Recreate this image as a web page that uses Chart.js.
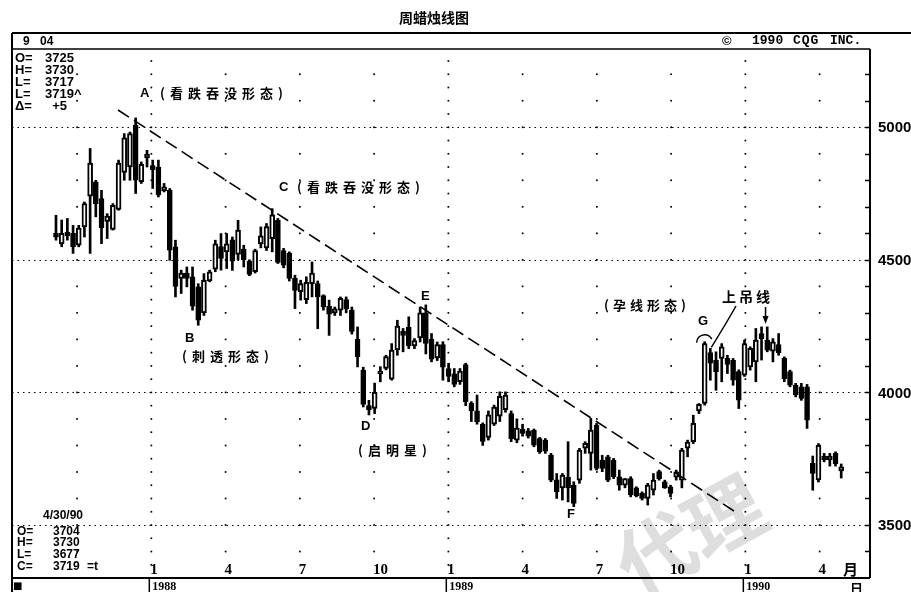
<!DOCTYPE html>
<html><head><meta charset="utf-8">
<script src="https://cdn.jsdelivr.net/npm/chart.js@4.4.1/dist/chart.umd.min.js"></script>
<style>html,body{margin:0;padding:0;background:#fff;overflow:hidden}canvas{display:block}</style>
</head><body>
<canvas id="c" width="911" height="592"></canvas>
<script>
// ---- weekly candles, Sept 1987 .. 4/30/90 (index = week number) ----
const opens = [4600,4560,4605,4600,4555,4624,4740,4794,4731,4645,4615,4690,4830,4850,5008,4795,4885,4855,4850,4760,
4762,4549,4430,4450,4436,4398,4300,4420,4465,4550,4530,4575,4520,4540,4495,4455,4560,4545,4580,4650,
4535,4525,4430,4380,4350,4410,4410,4365,4325,4300,4310,4350,4310,4200,4084,3950,3940,4070,4090,4050,
4160,4230,4245,4175,4205,4300,4200,4130,4180,4090,4070,4040,4105,3960,3930,3880,3830,3880,3910,3935,
3920,3820,3862,3855,3858,3826,3820,3763,3670,3640,3680,3650,3669,3790,3770,3877,3745,3757,3745,3682,
3650,3675,3640,3619,3600,3631,3701,3663,3644,3680,3669,3790,3814,3930,3958,4150,4121,4128,4128,4121,
4078,4065,4096,4115,4222,4197,4155,4180,4128,4078,4027,4021,4021,3732,3670,3760,3745,3770,3704];
const highs = [4668,4650,4656,4630,4630,4718,4920,4800,4762,4674,4712,4876,4976,4982,5035,4869,4913,4876,4876,4788,
4769,4574,4461,4473,4473,4410,4448,4461,4574,4599,4599,4586,4649,4555,4500,4540,4624,4637,4693,4656,
4543,4530,4442,4423,4436,4492,4420,4368,4348,4322,4360,4360,4322,4247,4095,3970,4035,4097,4140,4184,
4272,4241,4285,4203,4322,4330,4222,4190,4191,4110,4090,4090,4110,3965,3990,3885,3930,3952,4002,4002,
3930,3900,3880,3864,3862,3830,3826,3770,3694,3694,3814,3663,3789,3814,3902,3883,3763,3763,3751,3707,
3675,3682,3644,3625,3657,3694,3707,3669,3650,3707,3789,3820,3914,3958,4191,4166,4153,4184,4140,4128,
4085,4197,4172,4241,4247,4247,4203,4222,4134,4084,4034,4034,4030,3760,3807,3770,3770,3776,3730];
const lows = [4574,4549,4574,4524,4549,4586,4524,4662,4561,4580,4612,4687,4800,4800,4750,4788,4850,4769,4737,4756,
4498,4360,4373,4398,4310,4253,4290,4417,4455,4461,4467,4460,4500,4473,4440,4450,4545,4535,4530,4486,
4470,4420,4316,4348,4335,4360,4240,4310,4215,4290,4290,4300,4220,4096,3945,3915,3920,4040,4085,4046,
4140,4153,4165,4165,4190,4145,4115,4120,4046,4040,4021,4030,3950,3890,3880,3800,3820,3875,3890,3925,
3814,3810,3835,3828,3795,3770,3770,3663,3600,3594,3587,3569,3657,3770,3707,3707,3701,3663,3675,3631,
3640,3606,3606,3594,3575,3613,3669,3638,3606,3669,3640,3757,3807,3920,3952,4046,4008,4040,4071,4027,
3939,4060,4084,4040,4122,4153,4115,4140,4040,4021,3983,3970,3864,3631,3662,3738,3722,3722,3677];
const closes = [4585,4600,4590,4550,4620,4712,4865,4712,4620,4665,4705,4865,4960,4976,4800,4860,4898,4840,4745,4775,
4536,4400,4450,4430,4325,4272,4423,4455,4560,4505,4560,4495,4612,4500,4445,4535,4590,4625,4670,4490,
4480,4430,4385,4410,4415,4450,4360,4322,4295,4315,4355,4315,4230,4135,3955,3935,4000,4080,4135,4160,
4250,4215,4175,4195,4300,4185,4125,4180,4095,4060,4030,4080,3965,3930,3890,3815,3915,3945,3985,3990,
3825,3865,3845,3835,3801,3776,3778,3669,3625,3688,3640,3581,3782,3808,3858,3713,3713,3669,3682,3650,
3675,3613,3610,3600,3650,3669,3675,3640,3619,3700,3782,3813,3883,3955,4184,4110,4078,4172,4105,4046,
3971,4184,4166,4197,4203,4159,4191,4150,4052,4027,3990,3977,3895,3694,3800,3745,3760,3730,3719];

// trend line, in week / price units
const trendWeeks = [10.9, 119.7];
const trendPrices = [5065, 3545];

// axis / tick texts
const priceTicks = [3500, 4000, 4500, 5000];
const quarterWeeks = [3.7, 16.75, 29.8, 42.85, 55.9, 68.95, 82.0, 95.05, 108.1, 121.15, 134.2];
const quarterLabels = ['', '1', '4', '7', '10', '1', '4', '7', '10', '1', '4'];
const yearWeeks = [16.75, 68.95, 121.15];
const yearLabels = ['1988', '1989', '1990'];

// info boxes
const topBoxLabels = ['O=', 'H=', 'L=', 'L=', 'Δ='];
const topBoxValues = ['3725', '3730', '3717', '3719^', '  +5'];
const lastDate = '4/30/90';

const N = opens.length;
const bodies = opens.map((o, i) => ({x: i, y: [o, closes[i]]}));
const wicks = lows.map((l, i) => ({x: i, y: [l, highs[i]]}));

const CJK = '"Noto Sans CJK SC"';
function line(ctx, x1, y1, x2, y2, w) {
  ctx.lineWidth = w; ctx.beginPath(); ctx.moveTo(x1, y1); ctx.lineTo(x2, y2); ctx.stroke();
}
function txt(ctx, t, x, y, font, align, spacing) {
  ctx.font = font; ctx.textAlign = align || 'left'; ctx.textBaseline = 'middle';
  ctx.letterSpacing = spacing || '0px';
  ctx.fillText(t, x, y);
  ctx.letterSpacing = '0px';
}

const framePlugin = {
  id: 'frame',
  beforeDraw(chart) {
    const ctx = chart.ctx;
    ctx.save(); ctx.fillStyle = '#fff'; ctx.fillRect(0, 0, chart.width, chart.height); ctx.restore();
  },
  beforeDatasetsDraw(chart) {
    const {ctx, chartArea: a, scales: {x, y}} = chart;
    // watermark
    ctx.save();
    ctx.translate(690, 535); ctx.rotate(-0.5);
    ctx.fillStyle = '#dedede';
    ctx.font = 'bold 78px ' + CJK; ctx.textAlign = 'center'; ctx.textBaseline = 'middle';
    ctx.fillText('代理', 0, 0);
    ctx.restore();
    // dotted price lines
    ctx.save();
    ctx.strokeStyle = '#000'; ctx.setLineDash([1.5, 4]);
    priceTicks.forEach(p => {
      const py = Math.round(y.getPixelForValue(p)) + 0.5;
      line(ctx, a.left, py, a.right, py, 1);
    });
    ctx.restore();
    // dot grid on the quarter verticals
    ctx.save(); ctx.fillStyle = '#000';
    quarterWeeks.forEach(w => {
      const px = x.getPixelForValue(w);
      const step = yearWeeks.includes(w) ? 50 : 100;
      for (let p = 3350; p <= 5250; p += 50) {
        if (p % step) continue;
        const py = y.getPixelForValue(p);
        ctx.fillRect(px - 0.8, py - 0.8, 1.7, 1.7);
      }
    });
    ctx.restore();
  },
  afterDatasetsDraw(chart) {
    const {ctx, chartArea: a, scales: {x, y}} = chart;
    ctx.save();
    ctx.strokeStyle = '#000'; ctx.fillStyle = '#000';
    // frame
    line(ctx, a.left, 33, chart.width, 33, 2);
    line(ctx, a.left, 49, a.right, 49, 1.5);
    line(ctx, a.left, 33, a.left, chart.height, 2);
    line(ctx, a.right, 49, a.right, a.bottom, 2);
    line(ctx, a.left, a.bottom, a.right, a.bottom, 2);
    yearWeeks.forEach(w => { const px = x.getPixelForValue(w) - 2; line(ctx, px, a.bottom, px, chart.height, 1.5); });
    // right axis minor ticks and price labels
    for (let p = 3400; p <= 5200; p += 100) {
      const py = Math.round(y.getPixelForValue(p)) + 0.5;
      line(ctx, a.right - 5, py, a.right, py, 1.5);
    }
    priceTicks.forEach(p => {
      txt(ctx, String(p), a.right + 8, y.getPixelForValue(p) + 1, 'bold 15px "Liberation Sans"');
    });
    // title + header
    txt(ctx, '周蜡烛线图', 434, 18, 'bold 14px ' + CJK, 'center');
    txt(ctx, '9', 23, 42, 'bold 12px "Liberation Sans"');
    txt(ctx, '04', 40, 42, 'bold 12px "Liberation Sans"');
    const mono = 'bold 13px "Liberation Mono"';
    txt(ctx, '©', 722, 41, 'bold 13px "Liberation Sans"');
    txt(ctx, '1990', 752, 41, mono);
    txt(ctx, 'CQG', 793, 41, mono, 'left', '1px');
    txt(ctx, 'INC.', 830, 41, mono);
    // top-left info box
    const boxFont = 'bold 13px "Liberation Sans"';
    const rowsY = [58, 70, 82, 94, 106];
    topBoxLabels.forEach((l, k) => {
      txt(ctx, l, 15, rowsY[k], boxFont);
      txt(ctx, topBoxValues[k], 45, rowsY[k], boxFont);
    });
    // bottom-left last bar box
    const last = N - 1;
    txt(ctx, lastDate, 43, 516, 'bold 12px "Liberation Sans"');
    const lastLabels = ['O=', 'H=', 'L=', 'C='];
    const lastVals = [opens[last], highs[last], lows[last], closes[last]];
    const lastY = [532, 543, 555, 567];
    lastLabels.forEach((l, k) => {
      txt(ctx, l, 17, lastY[k], 'bold 12px "Liberation Sans"');
      txt(ctx, String(lastVals[k]), 53, lastY[k], 'bold 12px "Liberation Sans"');
    });
    txt(ctx, '=t', 87, 567, 'bold 12px "Liberation Sans"');
    // month labels inside the bottom of the plot
    quarterWeeks.forEach((w, k) => {
      if (!quarterLabels[k]) return;
      txt(ctx, quarterLabels[k], x.getPixelForValue(w) - 1, 570, 'bold 15px "Liberation Serif"');
    });
    txt(ctx, '月', 843, 569, 'bold 15px ' + CJK);
    // bottom row
    txt(ctx, '■', 13, 586, '10px "DejaVu Sans"');
    yearWeeks.forEach((w, k) => {
      txt(ctx, yearLabels[k], x.getPixelForValue(w) + 1, 587, 'bold 12px "Liberation Serif"');
    });
    txt(ctx, '日', 850, 588, 'bold 13px ' + CJK);
    // annotations
    const lf = 'bold 13px "Liberation Sans"';
    const cf = 'bold 13px ' + CJK;
    txt(ctx, 'A', 140, 93, lf); txt(ctx, '(看跌吞没形态)', 160, 93, cf, 'left', '5px');
    txt(ctx, 'C', 279, 187, lf); txt(ctx, '(看跌吞没形态)', 297, 187, cf, 'left', '5px');
    txt(ctx, 'B', 185, 338, lf); txt(ctx, '(刺透形态)', 182, 356, cf, 'left', '5px');
    txt(ctx, 'D', 361, 426, lf); txt(ctx, '(启明星)', 358, 450, cf, 'left', '5px');
    txt(ctx, 'E', 421, 296, lf);
    txt(ctx, 'F', 567, 514, lf);
    txt(ctx, 'G', 698, 321, lf);
    txt(ctx, '(孕线形态)', 604, 305, cf, 'left', '4px');
    txt(ctx, '上吊线', 722, 297, 'bold 14px ' + CJK, 'left', '3px');
    // arc over G (candle 114) and pointers
    const gx = x.getPixelForValue(114), gy = y.getPixelForValue(highs[114]);
    ctx.lineWidth = 1.5;
    ctx.beginPath(); ctx.arc(gx, gy + 1, 8, Math.PI * 1.0, Math.PI * 1.85); ctx.stroke();
    ctx.beginPath(); ctx.moveTo(736, 306); ctx.quadraticCurveTo(727, 322, x.getPixelForValue(115) + 1, y.getPixelForValue(highs[115]) - 1); ctx.stroke();
    const hx = x.getPixelForValue(124) + 4, hy = y.getPixelForValue(highs[124]) - 3;
    line(ctx, hx, 307, hx, hy - 6, 1.5);
    ctx.beginPath(); ctx.moveTo(hx - 3, hy - 8); ctx.lineTo(hx + 3, hy - 8); ctx.lineTo(hx, hy); ctx.closePath(); ctx.fill();
    ctx.restore();
  }
};

new Chart(document.getElementById('c'), {
  type: 'bar',
  data: {
    datasets: [
      {type: 'line', data: trendWeeks.map((w, k) => ({x: w, y: trendPrices[k]})),
       borderColor: '#000', borderWidth: 1.6, borderDash: [13, 6], pointRadius: 0, fill: false, tension: 0, order: 0},
      {data: bodies, grouped: false, barThickness: 5, minBarLength: 2, borderSkipped: false,
       backgroundColor: c => closes[c.dataIndex] >= opens[c.dataIndex] ? '#fff' : '#000',
       borderColor: '#000', borderWidth: 2, order: 1},
      {data: wicks, grouped: false, barThickness: 2, backgroundColor: '#000', borderWidth: 0, order: 2}
    ]
  },
  options: {
    responsive: false, animation: false, devicePixelRatio: 1,
    layout: {padding: {left: 12, top: 49, bottom: 14, right: 41}},
    plugins: {legend: {display: false}, tooltip: {enabled: false}},
    scales: {
      x: {type: 'linear', min: -7.73, max: 143.06, display: false, offset: false},
      y: {type: 'linear', min: 3300, max: 5295, display: false}
    }
  },
  plugins: [framePlugin]
});
</script>
</body></html>
